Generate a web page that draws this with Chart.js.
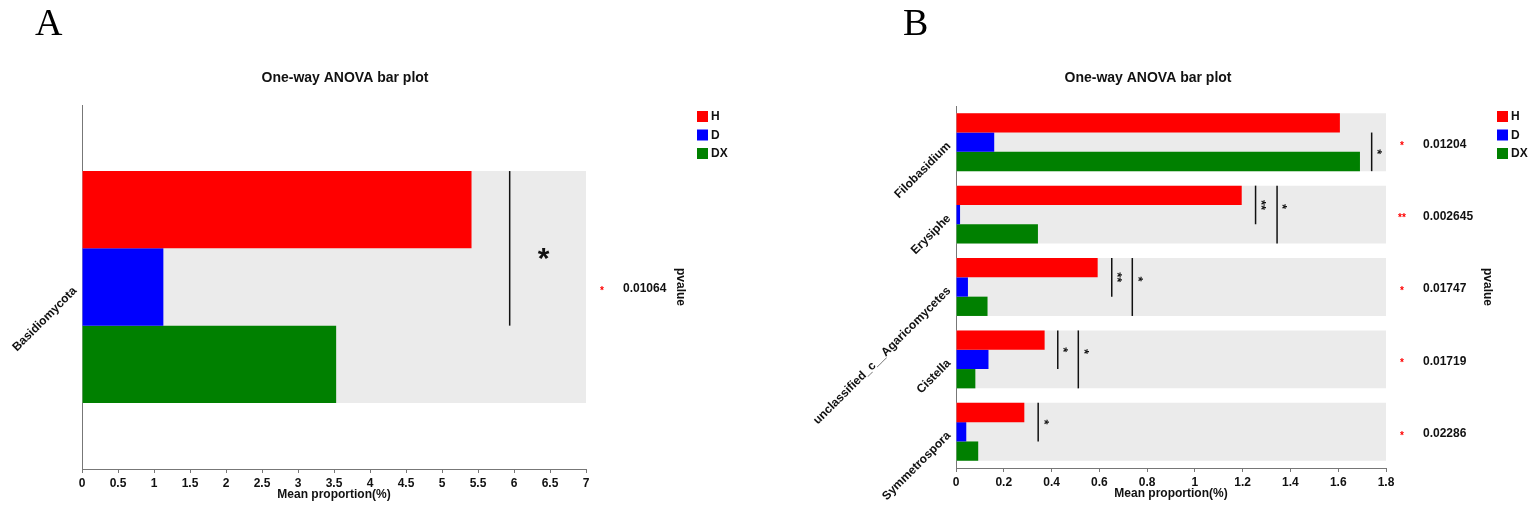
<!DOCTYPE html>
<html>
<head>
<meta charset="utf-8">
<script src="https://cdn.jsdelivr.net/npm/chart.js@4"></script>
<style>
html, body { margin: 0; padding: 0; background: #fff; }
.panel { position: absolute; top: 0; height: 511px; }
#pa { left: 0; width: 767px; }
#pb { left: 767px; width: 768px; }
</style>
</head>
<body>
<div class="panel" id="pa"><canvas id="chartA"></canvas></div>
<div class="panel" id="pb"><canvas id="chartB"></canvas></div>
<script>
const groups = ['H', 'D', 'DX'];

// panel A
const catsA = ['Basidiomycota'];
const hA = [5.41];
const dA = [1.13];
const dxA = [3.53];
const pValA = ['0.01064'];
const pStarA = ['*'];
const sigCatA = [0];
const sigXA = [5.94];
const sigFromA = ['H'];
const sigToA = ['D'];
const sigMarkA = ['*'];
const xMaxA = 7;
const xStepA = 0.5;

// panel B
const catsB = ['Filobasidium', 'Erysiphe', 'unclassified_c__Agaricomycetes', 'Cistella', 'Symmetrospora'];
const hB = [1.607, 1.196, 0.593, 0.371, 0.286];
const dB = [0.160, 0.017, 0.050, 0.136, 0.043];
const dxB = [1.691, 0.343, 0.132, 0.081, 0.093];
const pValB = ['0.01204', '0.002645', '0.01747', '0.01719', '0.02286'];
const pStarB = ['*', '**', '*', '*', '*'];
const sigCatB = [0, 1, 1, 2, 2, 3, 3, 4];
const sigXB = [1.74, 1.254, 1.344, 0.652, 0.738, 0.426, 0.512, 0.344];
const sigFromB = ['D', 'H', 'H', 'H', 'H', 'H', 'H', 'H'];
const sigToB = ['DX', 'D', 'DX', 'D', 'DX', 'D', 'DX', 'D'];
const sigMarkB = ['*', '**', '*', '**', '*', '*', '*', '*'];
const xMaxB = 1.8;
const xStepB = 0.2;

const groupColors = ['#ff0000', '#0000ff', '#008000'];
const FONT = '"Liberation Sans", Arial, sans-serif';

Chart.defaults.font.family = FONT;

const annot = {
	id: 'annot',
	afterDatasetsDraw(chart, args, o) {
		const ctx = chart.ctx, xs = chart.scales.x;
		ctx.save();
		o.sigCat.forEach((c, i) => {
			const a = chart.getDatasetMeta(groups.indexOf(o.sigFrom[i])).data[c];
			const b = chart.getDatasetMeta(groups.indexOf(o.sigTo[i])).data[c];
			const px = xs.getPixelForValue(o.sigX[i]);
			const y0 = a.y - a.height / 2, y1 = b.y + b.height / 2;
			ctx.strokeStyle = '#111';
			ctx.lineWidth = 1.5;
			ctx.beginPath();
			ctx.moveTo(px, y0);
			ctx.lineTo(px, y1);
			ctx.stroke();
			const my = y0 + Math.min((y1 - y0) / 2, o.markHalf) + o.markDy;
			ctx.save();
			ctx.translate(px + o.markDx, my);
			if (o.markRotate) ctx.rotate(Math.PI / 2);
			ctx.fillStyle = '#111';
			ctx.font = o.markFont;
			ctx.textAlign = 'center';
			ctx.textBaseline = 'middle';
			ctx.fillText(o.sigMark[i], 0, 0);
			ctx.restore();
		});
		ctx.restore();
	},
	afterDraw(chart, args, o) {
		const ctx = chart.ctx, ys = chart.scales.y, area = chart.chartArea;
		ctx.save();
		// panel letter
		ctx.fillStyle = '#000';
		ctx.font = '38px "Liberation Serif", "Times New Roman", serif';
		ctx.textAlign = 'left';
		ctx.textBaseline = 'alphabetic';
		ctx.fillText(o.letter, o.letterX, 35);
		// title
		ctx.font = 'bold 14px ' + FONT;
		ctx.textAlign = 'center';
		ctx.textBaseline = 'middle';
		ctx.fillStyle = '#111';
		ctx.fillText('One-way ANOVA bar plot', o.titleX, 78);
		// category labels
		ctx.font = 'bold 12px ' + FONT;
		chart.data.labels.forEach((lab, i) => {
			const py = ys.getPixelForValue(i);
			ctx.save();
			ctx.translate(area.left - 7, py + 2);
			ctx.rotate(-Math.PI / 4);
			ctx.textAlign = 'right';
			ctx.textBaseline = 'middle';
			ctx.fillText(lab, 0, 0);
			ctx.restore();
		});
		// p values
		o.pVal.forEach((v, i) => {
			const py = ys.getPixelForValue(i);
			ctx.fillStyle = '#ff0000';
			ctx.font = 'bold 10px ' + FONT;
			ctx.textAlign = 'center';
			ctx.fillText(o.pStar[i], area.right + 16, py + 4);
			ctx.fillStyle = '#111';
			ctx.font = 'bold 12px ' + FONT;
			ctx.textAlign = 'left';
			ctx.fillText(v, area.right + 37, py + 2);
		});
		ctx.save();
		ctx.translate(area.right + o.pvalueOff, (area.top + area.bottom) / 2);
		ctx.rotate(Math.PI / 2);
		ctx.textAlign = 'center';
		ctx.fillText('pvalue', 0, 0);
		ctx.restore();
		// legend
		groups.forEach((g, i) => {
			const ly = 111 + i * 18.5;
			ctx.fillStyle = chart.data.datasets[i].backgroundColor;
			ctx.fillRect(area.right + 111, ly, 11, 11);
			ctx.fillStyle = '#111';
			ctx.textAlign = 'left';
			ctx.fillText(g, area.right + 125, ly + 6);
		});
		ctx.restore();
	}
};

function makeChart(id, cats, h, d, dx, xMax, xStep, cp, pad, extra) {
	return new Chart(document.getElementById(id), {
		type: 'bar',
		data: {
			labels: cats,
			datasets: [
				{ label: groups[0], data: h, backgroundColor: groupColors[0] },
				{ label: groups[1], data: d, backgroundColor: groupColors[1] },
				{ label: groups[2], data: dx, backgroundColor: groupColors[2] },
				{ label: 'bg', data: cats.map(() => xMax), backgroundColor: '#ebebeb', grouped: false }
			]
		},
		options: {
			indexAxis: 'y',
			responsive: true,
			maintainAspectRatio: false,
			animation: false,
			datasets: { bar: { categoryPercentage: cp, barPercentage: 1 } },
			layout: { padding: pad },
			scales: {
				x: {
					min: 0,
					max: xMax,
					ticks: {
						stepSize: xStep, autoSkip: false, maxRotation: 0, color: '#111', padding: 3,
						font: { size: 12, weight: 'bold' },
						callback: v => String(+Number(v).toFixed(2))
					},
					grid: { display: true, drawOnChartArea: false, drawTicks: true, tickLength: 4, color: '#777' },
					border: { color: '#777', width: 1 },
					title: { display: true, text: 'Mean proportion(%)', color: '#111', font: { size: 12, weight: 'bold' }, padding: { top: 0, bottom: 7 } },
					afterFit: s => { s.height = 40; }
				},
				y: {
					ticks: { display: false },
					grid: { display: false, drawTicks: false },
					border: { color: '#777', width: 1 },
					afterFit: s => { s.width = 0; }
				}
			},
			plugins: { legend: { display: false }, tooltip: { enabled: false }, annot: extra }
		},
		plugins: [annot]
	});
}

makeChart('chartA', catsA, hA, dA, dxA, xMaxA, xStepA, 0.637,
	{ left: 82, right: 181, top: 105, bottom: 2 },
	{ letter: 'A', letterX: 35, titleX: 345, pvalueOff: 94,
	  pVal: pValA, pStar: pStarA, sigCat: sigCatA, sigX: sigXA, sigFrom: sigFromA, sigTo: sigToA, sigMark: sigMarkA,
	  markFont: 'bold 30px ' + FONT, markDx: 34, markDy: 11, markHalf: 1e9, markRotate: false });

makeChart('chartB', catsB, hB, dB, dxB, xMaxB, xStepB, 0.8,
	{ left: 189, right: 149, top: 106, bottom: 3 },
	{ letter: 'B', letterX: 136, titleX: 381, pvalueOff: 101,
	  pVal: pValB, pStar: pStarB, sigCat: sigCatB, sigX: sigXB, sigFrom: sigFromB, sigTo: sigToB, sigMark: sigMarkB,
	  markFont: 'bold 13px ' + FONT, markDx: 5, markDy: 0, markHalf: 21, markRotate: true });
</script>
</body>
</html>
